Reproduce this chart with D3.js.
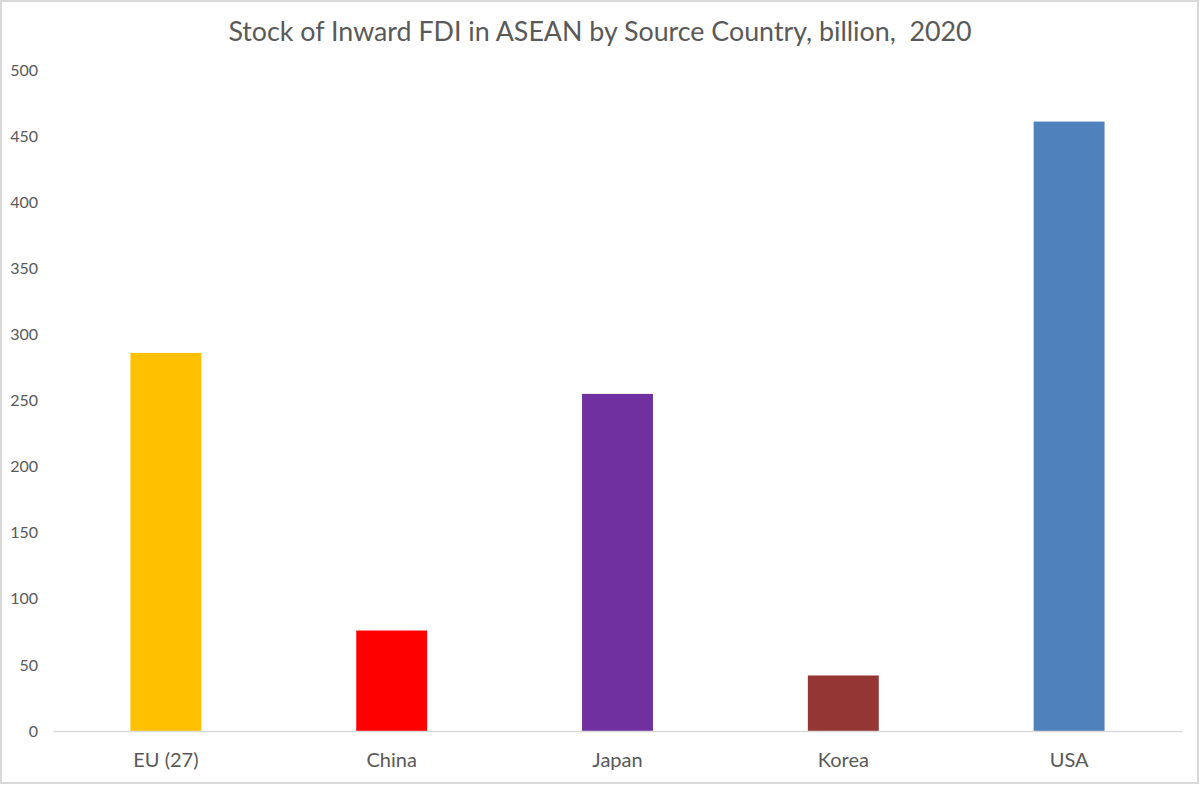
<!DOCTYPE html>
<html><head><meta charset="utf-8">
<script src="https://cdn.jsdelivr.net/npm/d3@7"></script>
<style>html,body{margin:0;padding:0;background:#fff;}svg{display:block;}</style>
</head><body>
<script>
const categories = ["EU (27)", "China", "Japan", "Korea", "USA"];
const values = [286, 76, 255, 42, 461];
const colors = ["#FFC000", "#FF0000", "#7030A0", "#943634", "#4F81BD"];
const yTicks = [0, 50, 100, 150, 200, 250, 300, 350, 400, 450, 500];
const title = "Stock of Inward FDI in ASEAN by Source Country, billion,  2020";

const W = 1200, H = 785;
const svg = d3.select("body").append("svg").attr("width", W).attr("height", H);
svg.append("rect").attr("x", 1).attr("y", 1).attr("width", W - 3).attr("height", H - 3)
  .attr("fill", "#fff").attr("stroke", "#d9d9d9").attr("stroke-width", 2);

const plotLeft = 53, plotRight = 1182, plotTop = 70, plotBottom = 731;
const x = d3.scaleBand().domain(categories).range([plotLeft, plotRight]).paddingInner(0.686).paddingOuter(0.343);
const y = d3.scaleLinear().domain([0, 500]).range([plotBottom, plotTop]);

svg.append("text").attr("x", 600).attr("y", 41).attr("text-anchor", "middle")
  .style("white-space", "pre")
  .attr("font-family", "Lato, 'Open Sans', sans-serif").attr("font-size", 26.8).attr("fill", "#595959")
  .text(title);

svg.selectAll("rect.bar").data(values).enter().append("rect").attr("class", "bar")
  .attr("x", (d, i) => x(categories[i])).attr("width", x.bandwidth())
  .attr("y", d => y(d)).attr("height", d => y(0) - y(d))
  .attr("fill", (d, i) => colors[i]);

const yAxis = d3.axisLeft(y).tickValues(yTicks).tickSize(0).tickPadding(0);
const gy = svg.append("g").attr("transform", `translate(38,0)`).call(yAxis);
gy.select(".domain").remove();
gy.selectAll("text").attr("font-family", "Lato, 'Open Sans', sans-serif").attr("font-size", 16).attr("fill", "#595959");

const xAxis = d3.axisBottom(x).tickSize(0).tickPadding(22);
const gx = svg.append("g").attr("transform", `translate(0,${plotBottom})`).call(xAxis);
gx.select(".domain").attr("stroke", "#d9d9d9").attr("stroke-width", 1.5);
gx.selectAll("text").attr("font-family", "Lato, 'Open Sans', sans-serif").attr("font-size", 20).attr("fill", "#595959");
</script>
</body></html>
